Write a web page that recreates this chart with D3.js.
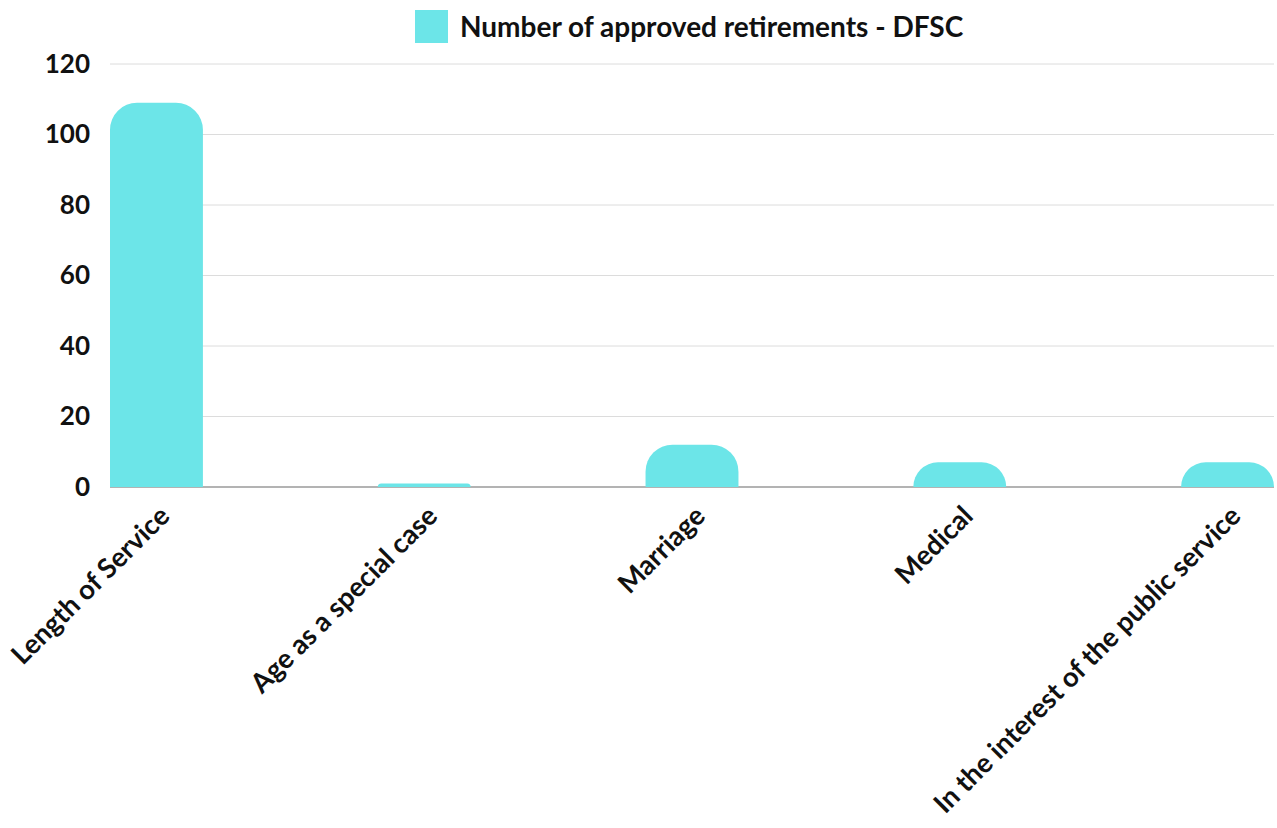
<!DOCTYPE html>
<html>
<head>
<meta charset="utf-8">
<script src="https://cdn.jsdelivr.net/npm/d3@7"></script>
<style>
  html, body { margin: 0; padding: 0; background: #fff; }
  svg { display: block; font-family: Lato, "Open Sans", sans-serif; font-weight: bold; }
</style>
</head>
<body>
<svg id="chart" width="1277" height="828"></svg>
<script>
// Retirement reasons and approved counts
const categories = [
  "Length of Service",
  "Age as a special case",
  "Marriage",
  "Medical",
  "In the interest of the public service"
];
const approved = [109, 1, 12, 7, 7];
const yTicks = [0, 20, 40, 60, 80, 100, 120];
const seriesName = "Number of approved retirements - DFSC";

const barColor = "#6ce5e8";
const svg = d3.select("#chart");

const plot = { left: 110, right: 1274, top: 64, bottom: 487 };

const x = d3.scaleBand()
  .domain(categories)
  .range([plot.left, plot.right])
  .paddingInner(0.653)
  .paddingOuter(0);

const y = d3.scaleLinear()
  .domain([0, 120])
  .range([plot.bottom, plot.top]);

// Horizontal gridlines
svg.append("g")
  .selectAll("line")
  .data(yTicks)
  .join("line")
  .attr("x1", plot.left)
  .attr("x2", plot.right)
  .attr("y1", d => y(d))
  .attr("y2", d => y(d))
  .attr("stroke", d => d === 0 ? "#9a9a9a" : "#dcdcdc")
  .attr("stroke-width", d => d === 0 ? 1.5 : 1);

// Y axis labels
const yAxis = d3.axisLeft(y).tickValues(yTicks).tickSize(0).tickPadding(0);
const yg = svg.append("g")
  .attr("transform", `translate(${plot.left - 20},0)`)
  .call(yAxis);
yg.select(".domain").remove();
yg.selectAll("text")
  .attr("font-family", "Lato, sans-serif")
  .attr("font-weight", "bold")
  .attr("font-size", 26)
  .attr("fill", "#111");

// Bars with rounded top corners
function roundedTopBar(x0, y0, w, h, r) {
  r = Math.min(r, h, w / 2);
  return `M${x0},${y0 + h}` +
    `V${y0 + r}` +
    `A${r},${r} 0 0 1 ${x0 + r},${y0}` +
    `H${x0 + w - r}` +
    `A${r},${r} 0 0 1 ${x0 + w},${y0 + r}` +
    `V${y0 + h}Z`;
}

svg.append("g")
  .selectAll("path")
  .data(categories.map((c, i) => ({ c, v: approved[i] })))
  .join("path")
  .attr("d", d => {
    const x0 = x(d.c), w = x.bandwidth();
    const y0 = y(d.v), h = y(0) - y(d.v);
    return roundedTopBar(x0, y0, w, h, 27);
  })
  .attr("fill", barColor);

// X axis labels, rotated
const xg = svg.append("g");
xg.selectAll("text")
  .data(categories)
  .join("text")
  .attr("transform", d => `translate(${x(d) + x.bandwidth() / 2 + 8},${plot.bottom + 24}) rotate(-45)`)
  .attr("text-anchor", "end")
  .attr("dy", "0.35em")
  .attr("font-size", 27.3)
  .attr("fill", "#111")
  .text(d => d);

// Legend
const legend = svg.append("g").attr("transform", "translate(415,10)");
legend.append("rect")
  .attr("width", 33)
  .attr("height", 33)
  .attr("fill", barColor);
legend.append("text")
  .attr("x", 45)
  .attr("y", 17)
  .attr("dy", "0.35em")
  .attr("font-size", 28)
  .attr("fill", "#111")
  .text(seriesName);
</script>
</body>
</html>
